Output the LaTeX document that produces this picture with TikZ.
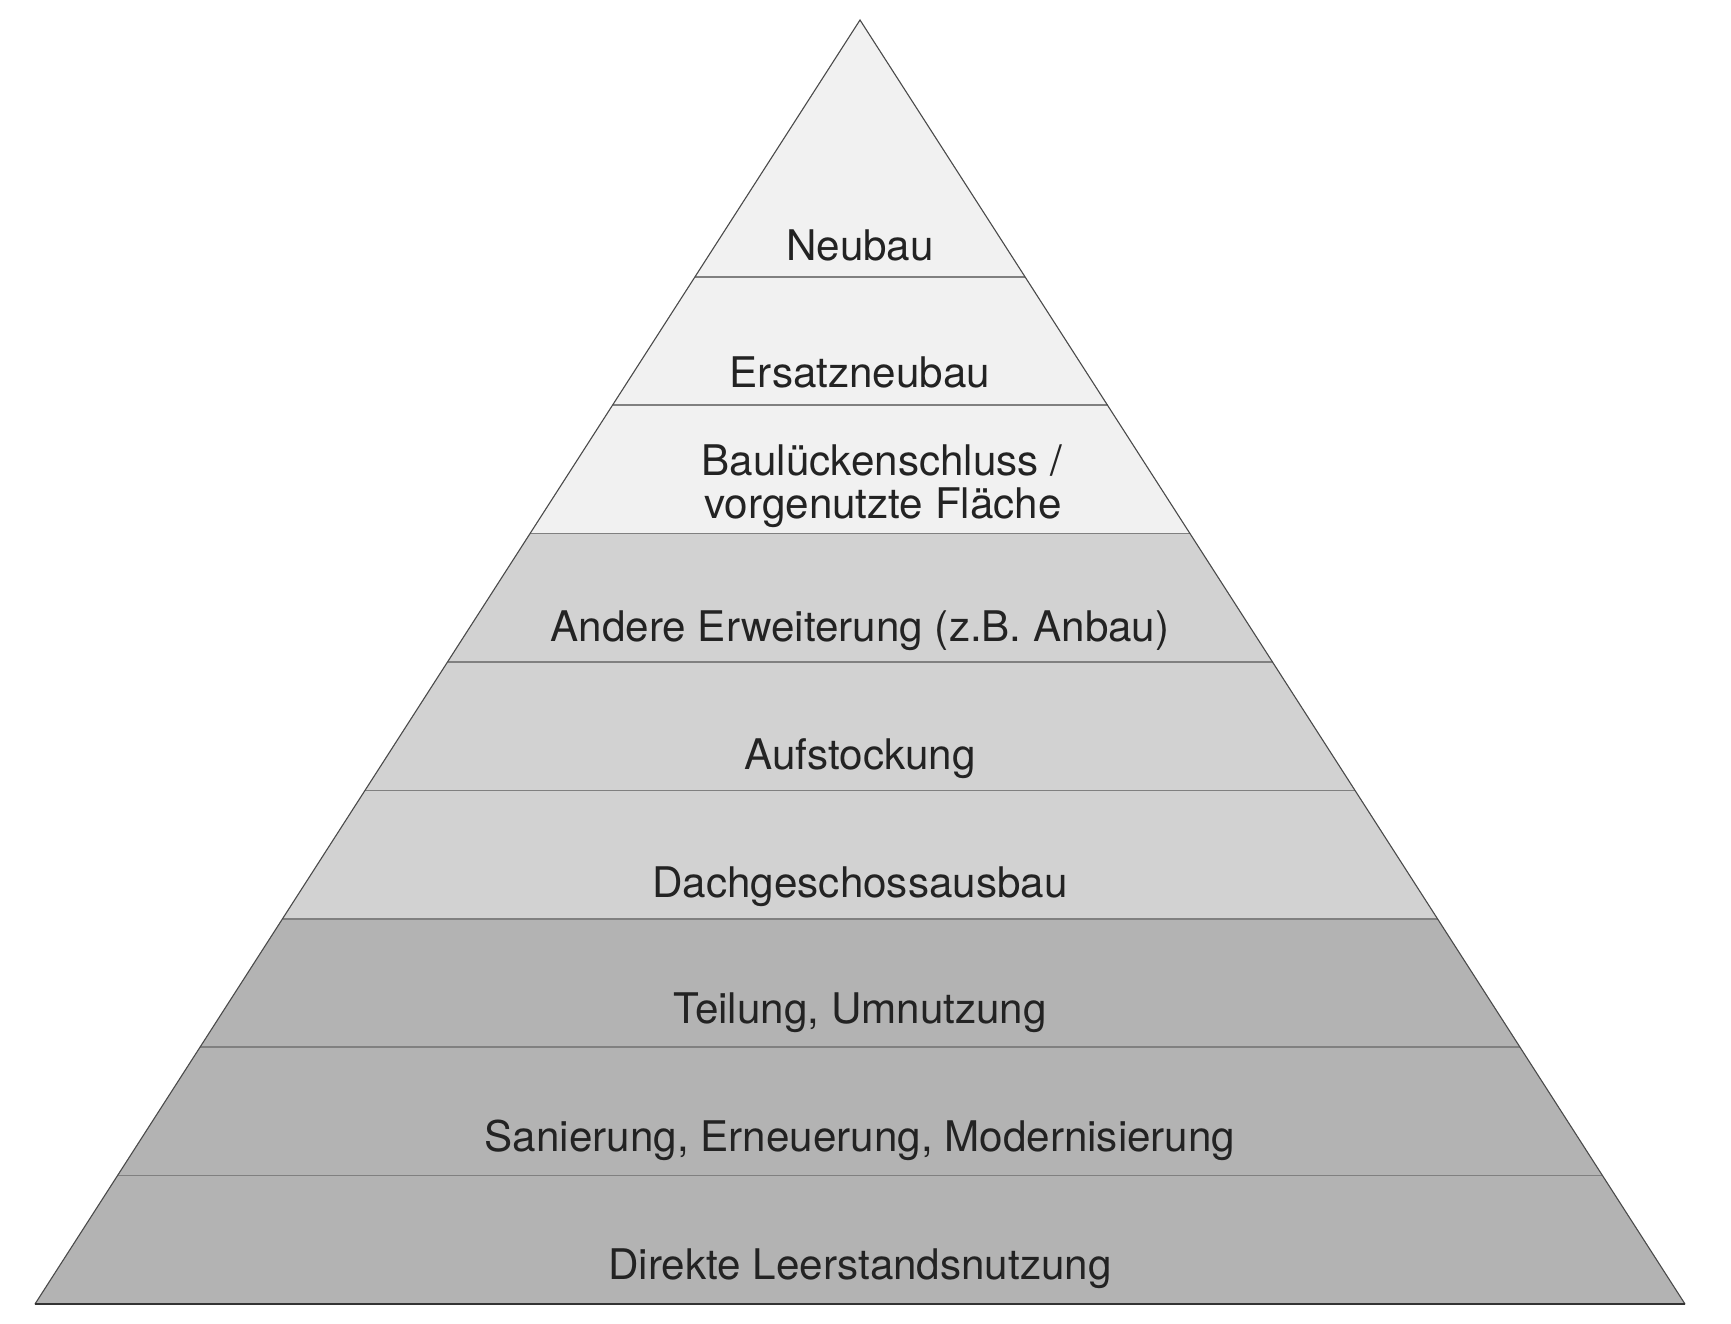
\documentclass[tikz,border=0pt]{standalone}
\usepackage{fontspec}
\setmainfont{TeX Gyre Heros}
\definecolor{fillA}{HTML}{F1F1F1}
\definecolor{fillB}{HTML}{D2D2D2}
\definecolor{fillC}{HTML}{B3B3B3}
\definecolor{txt}{HTML}{232323}
\definecolor{divc}{HTML}{808080}
\definecolor{edgec}{HTML}{4A4A4A}
\definecolor{basec}{HTML}{333333}
\tikzset{
  lbl/.style={anchor=base, inner sep=0pt, text=txt, font=\fontsize{42.2}{46}\selectfont},
  divline/.style={draw=divc, line width=1.5pt},
  edgeline/.style={draw=edgec, line width=1.1pt, line cap=round},
  baseline/.style={draw=basec, line width=2pt}
}
\begin{document}
\begin{tikzpicture}[x=1pt,y=-1pt]
\fill[white] (0,0) rectangle (1731,1323);
\useasboundingbox (0,0) rectangle (1731,1323);
\coordinate (apex) at (860,20);
\coordinate (L2) at (695,276.8);   \coordinate (R2) at (1025,276.8);
\coordinate (L3) at (612.5,405.2); \coordinate (R3) at (1107.5,405.2);
\coordinate (L4) at (530,533.6);   \coordinate (R4) at (1190,533.6);
\coordinate (L5) at (447.5,662);   \coordinate (R5) at (1272.5,662);
\coordinate (L6) at (365,790.4);   \coordinate (R6) at (1355,790.4);
\coordinate (L7) at (282.5,918.8); \coordinate (R7) at (1437.5,918.8);
\coordinate (L8) at (200,1047.2);  \coordinate (R8) at (1520,1047.2);
\coordinate (L9) at (117.5,1175.6);\coordinate (R9) at (1602.5,1175.6);
\coordinate (L10) at (35,1304);    \coordinate (R10) at (1685,1304);
% fills
\fill[fillA] (apex) -- (L4) -- (R4) -- cycle;
\fill[fillB] (L4) -- (R4) -- (R7) -- (L7) -- cycle;
\fill[fillC] (L7) -- (R7) -- (R10) -- (L10) -- cycle;
% dividers
\foreach \k in {2,...,9} { \draw[divline] (L\k) -- (R\k); }
% outline
\draw[edgeline] (L10) -- (apex) -- (R10);
\draw[baseline] (L10) -- (R10);
% labels
\node[lbl] (t1) at (860,260) {Neubau};
\node[lbl] (t2) at (860,387) {Ersatzneubau};
\node[lbl] (t3a) at (882,475) {Baulückenschluss /};
\node[lbl] (t3b) at (883,518) {vorgenutzte Fläche};
\node[lbl] (t4) at (860,641) {Andere Erweiterung (z.B. Anbau)};
\node[lbl] (t5) at (860,769) {Aufstockung};
\node[lbl] (t6) at (860,897) {Dachgeschossausbau};
\node[lbl] (t7) at (860,1023) {Teilung, Umnutzung};
\node[lbl] (t8) at (860,1151) {Sanierung, Erneuerung, Modernisierung};
\node[lbl] (t9) at (860,1279) {Direkte Leerstandsnutzung};
\end{tikzpicture}
\end{document}
